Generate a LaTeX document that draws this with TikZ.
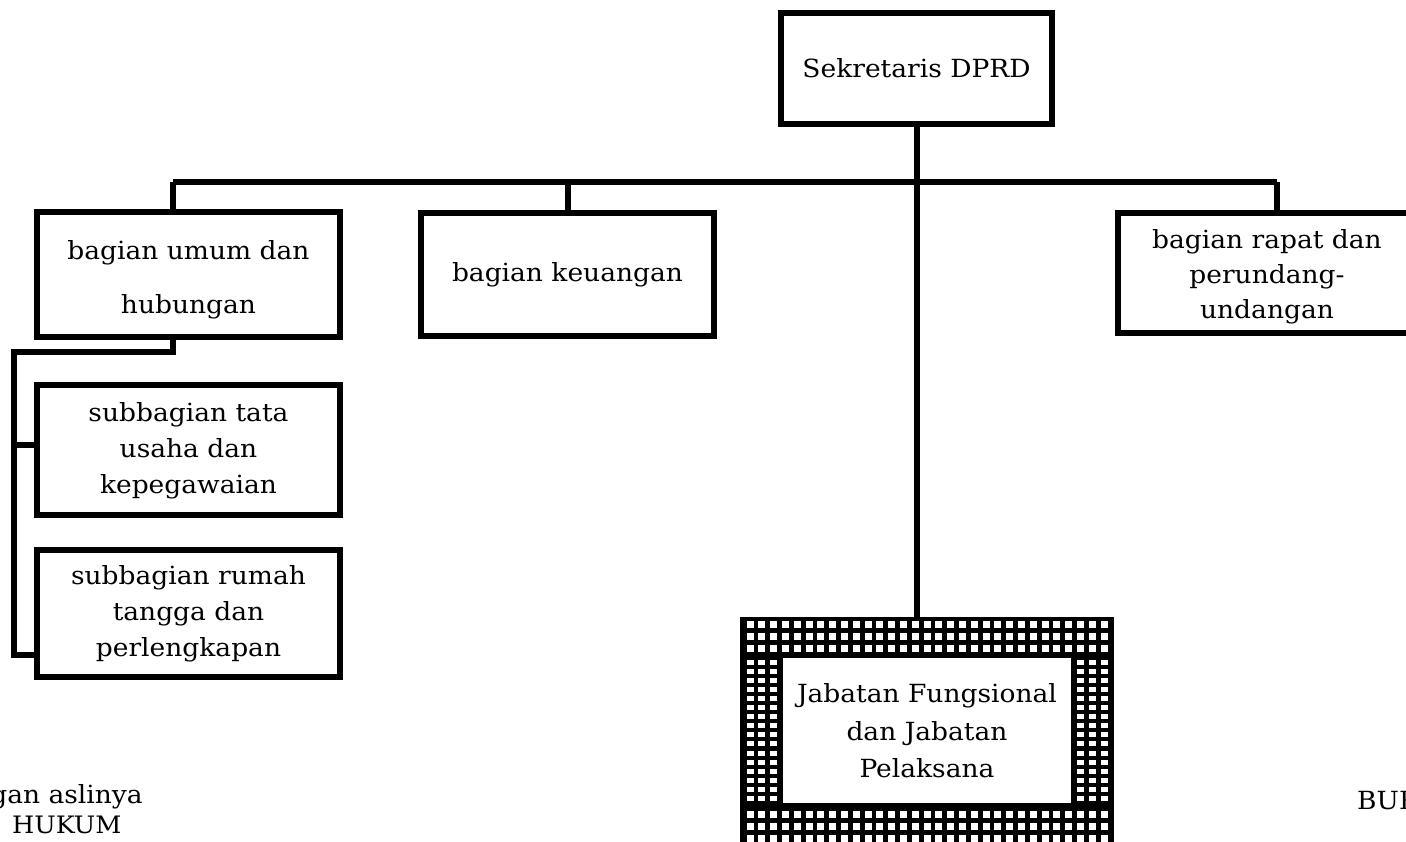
\documentclass[tikz,border=0pt]{standalone}
\usepackage{fontspec}
\setmainfont{DejaVu Serif}[FakeStretch=1.06]
\begin{document}
\begin{tikzpicture}[x=1pt,y=-1pt,
  box/.style={draw=black,line width=6pt,rectangle,inner sep=0pt,align=center},
  conn/.style={line width=6pt,line join=miter},
  lbl/.style={inner sep=0pt,align=center,font=\fontsize{25}{36}\selectfont}]
\useasboundingbox (0,0) rectangle (1406,842);
% boxes
\node[box,minimum width=271pt,minimum height=111pt] (S) at (916.5,68.5) {};
\node[lbl] at (S.center) {Sekretaris DPRD};
\node[box,minimum width=303pt,minimum height=125pt] (B1) at (188.5,274.5) {};
\node[lbl,font=\fontsize{25}{54}\selectfont] at (188.5,280) {bagian umum dan\\hubungan};
\node[box,minimum width=293pt,minimum height=123pt] (K) at (567.5,274.5) {};
\node[lbl] at (K.center) {bagian keuangan};
\node[box,minimum width=298pt,minimum height=120pt] (R) at (1267,273) {};
\node[lbl,font=\fontsize{25}{35}\selectfont] at (1267,277) {bagian rapat dan\\perundang-\\undangan};
\node[box,minimum width=303pt,minimum height=130pt] (S1) at (188.5,450) {};
\node[lbl] at (188.5,451) {subbagian tata\\usaha dan\\kepegawaian};
\node[box,minimum width=303pt,minimum height=127pt] (S2) at (188.5,613.5) {};
\node[lbl] at (188.5,614) {subbagian rumah\\tangga dan\\perlengkapan};
% patterned box
\node[rectangle,fill=black,inner sep=0pt,minimum width=374pt,minimum height=236pt] (J) at (927,735) {};
\foreach \r in {621,633,645,811,823,835} {
  \foreach \i in {0,...,30} {
    \fill[white] ({746.5+11.8*\i},\r) rectangle +(7,7);
  }
}
\foreach \k in {0,...,15} {
  \foreach \i in {0,1,2,28,29,30} {
    \fill[white] ({746.5+11.8*\i},{659.5+9.1*\k}) rectangle +(7,5);
  }
}
\fill[white] (783,658) rectangle (1071,803);
\node[lbl,font=\fontsize{25}{37.5}\selectfont] (JT) at (927,731) {Jabatan Fungsional\\dan Jabatan\\Pelaksana};
% connectors
\coordinate (busL) at (173,182);
\coordinate (busR) at (1277,182);
\coordinate (t1) at (14,352);
\coordinate (b1) at (14,445);
\coordinate (b2) at (14,655);
\draw[conn] (S.south) -- (S.south |- J.north);
\draw[conn] (busL) -- (busR);
\draw[conn] (busL) -- (busL |- B1.north);
\draw[conn] (K.north |- busL) -- (K.north);
\draw[conn] (busR) -- (busR |- R.north);
\draw[conn] (busL |- B1.south) -- (busL |- t1) -- (t1) -- (b2) -- (b2 -| S2.west);
\draw[conn] (b1) -- (b1 -| S1.west);
% page fragments
\node[lbl,anchor=base east] (f1) at (143,803) {gan aslinya};
\node[lbl,anchor=base west,font=\fontsize{24}{36}\selectfont] (f2) at (12,833) {HUKUM};
\node[lbl,anchor=base west] (f3) at (1357,809) {BUR};
\end{tikzpicture}
\end{document}
